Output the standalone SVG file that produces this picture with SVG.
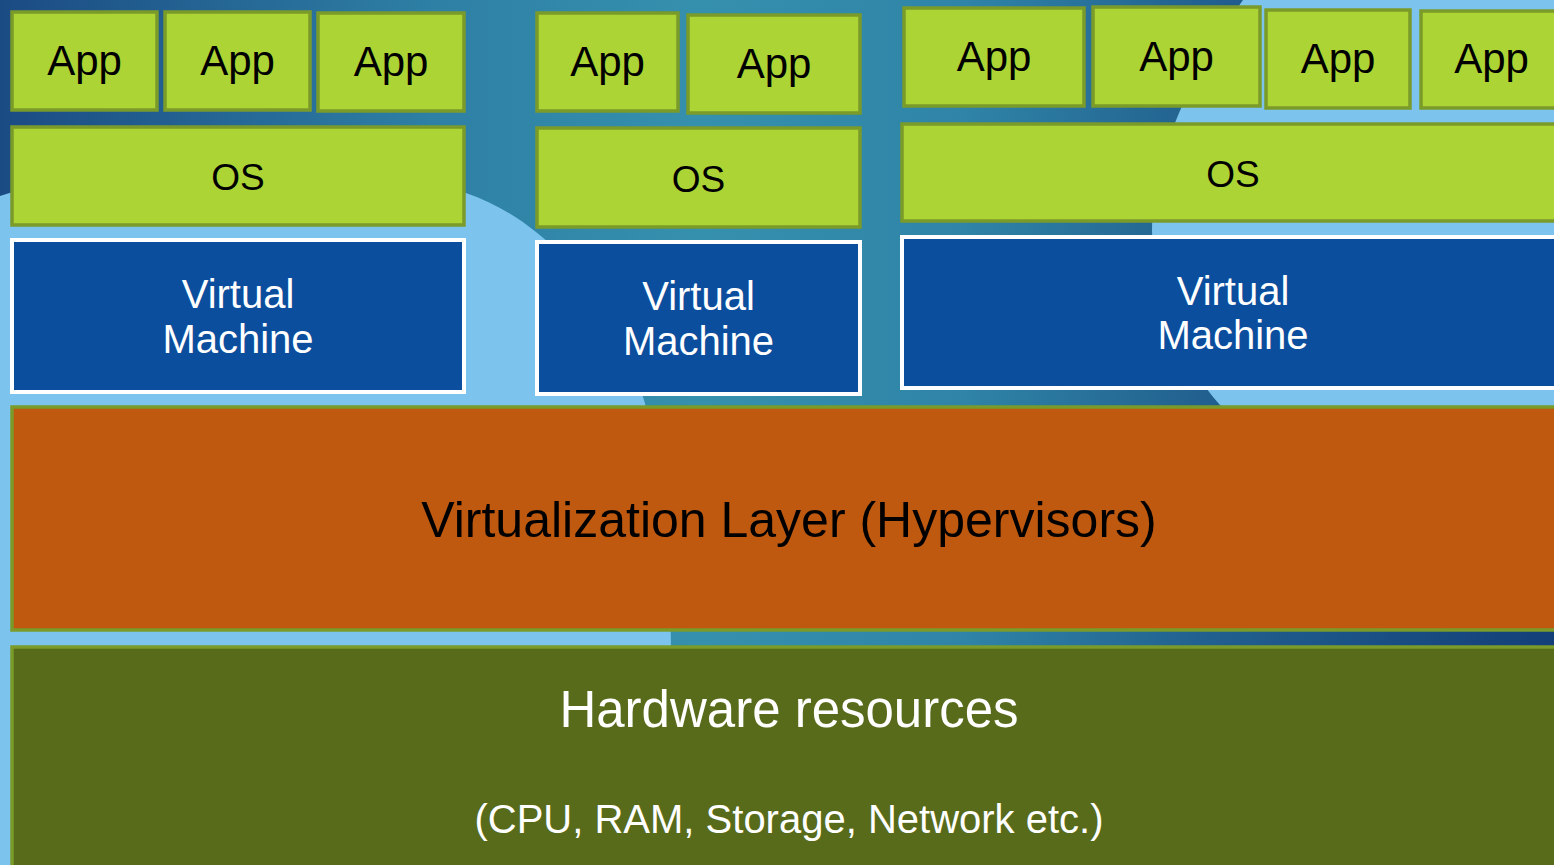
<svg xmlns="http://www.w3.org/2000/svg" width="1554" height="865" viewBox="0 0 1554 865">
  <defs>
    <linearGradient id="bg" gradientUnits="userSpaceOnUse" x1="0" y1="0" x2="1554" y2="0">
      <stop offset="0" stop-color="#1b4b83"/>
      <stop offset="0.28" stop-color="#2e80a5"/>
      <stop offset="0.45" stop-color="#3590ad"/>
      <stop offset="0.62" stop-color="#2f84a7"/>
      <stop offset="0.78" stop-color="#215f8e"/>
      <stop offset="1" stop-color="#133f78"/>
    </linearGradient>
    <style>
      .app, .os { fill: #acd434; stroke: #7a9a2a; stroke-width: 3.5; }
      .vm { fill: #0b4e9d; stroke: #ffffff; stroke-width: 4; }
      .virt { fill: #be590f; stroke: #7a9a2a; stroke-width: 3.5; }
      .hw { fill: #586b1a; stroke: #7a9a2a; stroke-width: 3.5; }
      text { font-family: "Liberation Sans", Arial, sans-serif; text-anchor: middle; }
      .tApp { font-size: 42px; fill: #000; }
      .tOS { font-size: 37px; fill: #000; }
      .tVM { font-size: 40px; fill: #fff; }
      .tVirt { font-size: 50px; fill: #000; }
      .tHw { font-size: 51px; fill: #fff; }
      .tHw2 { font-size: 40px; fill: #fff; }
    </style>
  </defs>

  <g id="background">
    <rect x="0" y="0" width="1554" height="865" fill="url(#bg)"/>
    <path d="M0,196 C140,150 340,150 466,193 C550,222 612,300 643,397 C662,455 671,560 671,660 L671,865 L0,865 Z" fill="#7cc4ee"/>
    <path d="M1243,0 C1200,60 1152,150 1152,230 C1152,300 1180,360 1220,405 L1400,520 L1554,560 L1554,0 Z" fill="#7cc4ee"/>
  </g>

  <g id="connectors"></g>

  <g id="vm1-app1"><rect class="app" x="12" y="12" width="145" height="98"/><text class="tApp" x="84.5" y="75">App</text></g>
  <g id="vm1-app2"><rect class="app" x="165" y="12" width="145" height="98"/><text class="tApp" x="237.5" y="75">App</text></g>
  <g id="vm1-app3"><rect class="app" x="318" y="13" width="146" height="98"/><text class="tApp" x="391" y="76">App</text></g>
  <g id="vm1-os"><rect class="os" x="12" y="127" width="452" height="98"/><text class="tOS" x="238" y="190">OS</text></g>
  <g id="vm1"><rect class="vm" x="12" y="240" width="452" height="152"/><text class="tVM" x="238" y="308">Virtual</text><text class="tVM" x="238" y="353">Machine</text></g>

  <g id="vm2-app1"><rect class="app" x="537" y="13" width="141" height="98"/><text class="tApp" x="607.5" y="76">App</text></g>
  <g id="vm2-app2"><rect class="app" x="688" y="15" width="172" height="98"/><text class="tApp" x="774" y="78">App</text></g>
  <g id="vm2-os"><rect class="os" x="537" y="128" width="323" height="99"/><text class="tOS" x="698.5" y="192">OS</text></g>
  <g id="vm2"><rect class="vm" x="537" y="242" width="323" height="152"/><text class="tVM" x="698.5" y="310">Virtual</text><text class="tVM" x="698.5" y="355">Machine</text></g>

  <g id="vm3-app1"><rect class="app" x="904" y="8" width="180" height="98"/><text class="tApp" x="994" y="71">App</text></g>
  <g id="vm3-app2"><rect class="app" x="1093" y="7" width="167" height="99"/><text class="tApp" x="1176.5" y="71">App</text></g>
  <g id="vm3-app3"><rect class="app" x="1266" y="10" width="144" height="98"/><text class="tApp" x="1338" y="73">App</text></g>
  <g id="vm3-app4"><rect class="app" x="1421" y="11" width="141" height="97"/><text class="tApp" x="1491.5" y="73">App</text></g>
  <g id="vm3-os"><rect class="os" x="902" y="124" width="662" height="97"/><text class="tOS" x="1233" y="187">OS</text></g>
  <g id="vm3"><rect class="vm" x="902" y="237" width="662" height="151"/><text class="tVM" x="1233" y="305">Virtual</text><text class="tVM" x="1233" y="349">Machine</text></g>

  <g id="virtualization-layer"><rect class="virt" x="12" y="407" width="1554" height="223"/><text class="tVirt" x="789" y="537">Virtualization Layer (Hypervisors)</text></g>
  <g id="hardware"><rect class="hw" x="12" y="647" width="1554" height="230"/><text class="tHw" x="789" y="727">Hardware resources</text><text class="tHw2" x="789" y="833">(CPU, RAM, Storage, Network etc.)</text></g>
</svg>
